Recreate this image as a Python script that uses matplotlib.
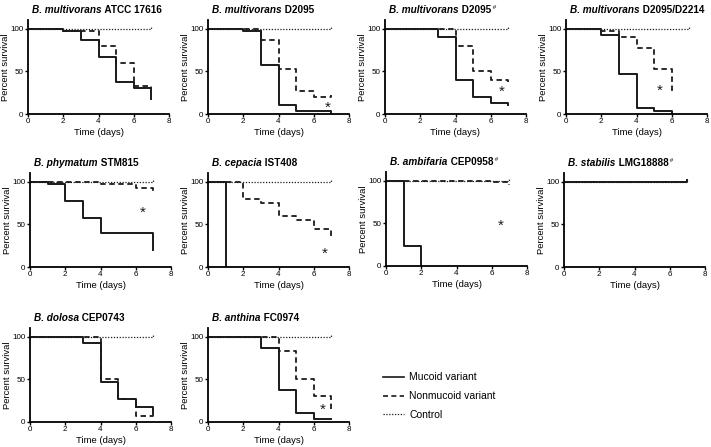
import numpy as np
import matplotlib
matplotlib.use("Agg")
import matplotlib.pyplot as plt
from matplotlib.lines import Line2D

plt.rcParams['font.family'] = ['Liberation Sans', 'DejaVu Sans']

# ---- data ----
species = ["B. multivorans", "B. multivorans", "B. multivorans", "B. multivorans",
           "B. phymatum", "B. cepacia", "B. ambifaria", "B. stabilis",
           "B. dolosa", "B. anthina"]
strains = ["ATCC 17616", "D2095", "D2095", "D2095/D2214",
           "STM815", "IST408", "CEP0958", "LMG18888",
           "CEP0743", "FC0974"]
hashmark = [False, False, True, False, False, False, True, True, False, False]

# mucoid variant (time, percent survival)
muc_t = [[0, 2, 3, 4, 5, 6, 7], [0, 2, 3, 4, 5, 7], [0, 3, 4, 5, 6, 7], [0, 2, 3, 4, 5, 6],
         [0, 1, 2, 3, 4, 7], [0, 1], [0, 1, 2], [0, 7],
         [0, 3, 4, 5, 6, 7], [0, 3, 4, 5, 6, 7]]
muc_s = [[100, 97, 87, 67, 37, 30, 17], [100, 97, 57, 10, 3, 0], [100, 90, 40, 20, 13, 11], [100, 93, 47, 7, 3, 0],
         [100, 97, 77, 57, 40, 20], [100, 0], [100, 23, 0], [100, 102],
         [100, 93, 47, 27, 17, 10], [100, 87, 37, 10, 3, 4]]
# nonmucoid variant
non_t = [[0, 2, 4, 5, 6, 7], [0, 2, 3, 4, 5, 6, 7], [0, 4, 5, 6, 7], [0, 2, 3, 4, 5, 6],
         [0, 4, 6, 7], [0, 2, 3, 4, 5, 6, 7], [0, 6, 7], [0, 7],
         [0, 4, 5, 6, 7], [0, 4, 5, 6, 7]]
non_s = [[100, 97, 80, 60, 33, 31], [100, 99, 87, 53, 27, 20, 22], [100, 80, 50, 40, 37], [100, 97, 90, 77, 53, 23],
         [100, 97, 93, 88], [100, 80, 75, 60, 55, 45, 35], [100, 98, 95], [100, 100],
         [100, 50, 27, 7, 15], [100, 83, 50, 30, 13]]
# control
ctl_t = [0, 7]
ctl_s = [100, 102]

# asterisk positions (None = no asterisk)
star = [None, (6.8, 7), (6.6, 26), (5.3, 27), (6.4, 64), (6.6, 16), (6.5, 47), None, None, (6.5, 14)]

# ---- layout ----
fig = plt.figure(figsize=(7.11, 4.47), dpi=100)
W, H = 711.0, 447.0
lefts = [28, 208, 385, 566, 30, 208, 386, 564, 30, 208]
zeros = [114, 114, 114, 114, 267, 267, 266, 267, 422, 422]
pw, ph = 141, 94

col = '#1a1a1a'
for i in range(10):
    ax = fig.add_axes([lefts[i] / W, 1 - zeros[i] / H, pw / W, ph / H])
    ax.step(ctl_t, ctl_s, where='post', color=col, lw=0.9, ls=(0, (1, 1.3)))
    ax.step(non_t[i], non_s[i], where='post', color=col, lw=1.3, ls=(0, (3, 2)))
    ax.step(muc_t[i], muc_s[i], where='post', color=col, lw=1.4)
    if star[i] is not None:
        ax.text(star[i][0], star[i][1], '*', fontsize=11, ha='center', va='center', color=col)
    ax.set_xlim(0, 8)
    ax.set_ylim(0, 110)
    ax.set_xticks([0, 2, 4, 6, 8])
    ax.set_yticks([0, 50, 100])
    ax.spines['top'].set_visible(False)
    ax.spines['right'].set_visible(False)
    ax.spines['left'].set_linewidth(1.3)
    ax.spines['bottom'].set_linewidth(1.3)
    ax.tick_params(labelsize=5.8, length=2, width=1, pad=1.2)
    ax.set_xlabel('Time (days)', fontsize=6.8, labelpad=2)
    ax.set_ylabel('Percent survival', fontsize=6.8, labelpad=0.5)

    t1 = ax.text(0.03, 1.05, species[i], transform=ax.transAxes, fontsize=7.2,
                 fontweight='bold', style='italic', ha='left', va='bottom')
    t2 = ax.annotate(' ' + strains[i], xy=(1, 0), xycoords=t1, fontsize=7.2,
                     fontweight='bold', ha='left', va='bottom')
    if hashmark[i]:
        ax.annotate(' #', xy=(1, 0.55), xycoords=t2, fontsize=4.5,
                    ha='left', va='bottom')

# legend
handles = [Line2D([], [], color=col, lw=1.2),
           Line2D([], [], color=col, lw=1.2, ls=(0, (3, 2))),
           Line2D([], [], color=col, lw=0.9, ls=(0, (1, 1.3)))]
fig.legend(handles, ['Mucoid variant', 'Nonmucoid variant', 'Control'],
           loc='upper left', bbox_to_anchor=(374 / W, 1 - 363 / H), frameon=False,
           fontsize=7.5, handlelength=2.0, labelspacing=0.85, handletextpad=0.5)

fig.savefig('out.png', dpi=100)
